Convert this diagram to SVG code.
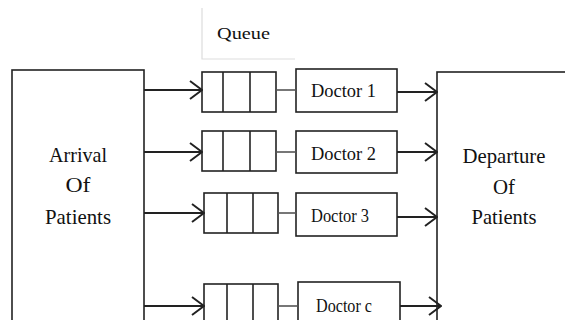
<svg xmlns="http://www.w3.org/2000/svg" width="565" height="320" viewBox="0 0 565 320">
<style>
.box{fill:#fff;stroke:#222;stroke-width:1.6}
.div{stroke:#222;stroke-width:1.6}
.lbl{font-family:'Liberation Serif','DejaVu Serif',serif;fill:#111}
.arr{fill:none;stroke:#222;stroke-width:2;marker-end:url(#arr)}
.link{fill:none;stroke:#555;stroke-width:1.6}
</style>
<defs>
<marker id="arr" viewBox="0 0 14 20" refX="13" refY="10" markerWidth="14" markerHeight="20" markerUnits="userSpaceOnUse" orient="auto">
<path d="M1,1 L13,10 L1,19" fill="none" stroke="#222" stroke-width="2"/>
</marker>
</defs>
<rect width="565" height="320" fill="#fff"/>

<g id="queue-label">
<path d="M202,8 V59 H295" fill="none" stroke="#ddd" stroke-width="1.2"/>
<text class="lbl" x="217" y="39" font-size="17" textLength="53" lengthAdjust="spacingAndGlyphs">Queue</text>
</g>

<g id="arrival">
<rect class="box" x="12" y="70" width="132" height="270"/>
<text class="lbl" x="78" y="162" font-size="22" text-anchor="middle" textLength="58" lengthAdjust="spacingAndGlyphs">Arrival</text>
<text class="lbl" x="78" y="192" font-size="22" text-anchor="middle" textLength="25" lengthAdjust="spacingAndGlyphs">Of</text>
<text class="lbl" x="78" y="224" font-size="22" text-anchor="middle" textLength="66" lengthAdjust="spacingAndGlyphs">Patients</text>
</g>

<g id="departure">
<rect class="box" x="437" y="72" width="140" height="270"/>
<text class="lbl" x="504" y="163" font-size="22" text-anchor="middle" textLength="83" lengthAdjust="spacingAndGlyphs">Departure</text>
<text class="lbl" x="504" y="194" font-size="22" text-anchor="middle" textLength="22" lengthAdjust="spacingAndGlyphs">Of</text>
<text class="lbl" x="504" y="224" font-size="22" text-anchor="middle" textLength="65" lengthAdjust="spacingAndGlyphs">Patients</text>
</g>

<g id="queue1">
<rect class="box" x="202" y="72" width="74" height="40"/>
<line class="div" x1="223" y1="72" x2="223" y2="112"/>
<line class="div" x1="250" y1="72" x2="250" y2="112"/>
</g>
<g id="queue2">
<rect class="box" x="202" y="131" width="74" height="40"/>
<line class="div" x1="223" y1="131" x2="223" y2="171"/>
<line class="div" x1="250" y1="131" x2="250" y2="171"/>
</g>
<g id="queue3">
<rect class="box" x="204" y="193" width="74" height="40"/>
<line class="div" x1="227" y1="193" x2="227" y2="233"/>
<line class="div" x1="253" y1="193" x2="253" y2="233"/>
</g>
<g id="queue4">
<rect class="box" x="204" y="284" width="74" height="50"/>
<line class="div" x1="227" y1="284" x2="227" y2="334"/>
<line class="div" x1="253" y1="284" x2="253" y2="334"/>
</g>

<g id="doctor1">
<rect class="box" x="296" y="69" width="101" height="43"/>
<text class="lbl" x="311" y="97" font-size="18" textLength="65" lengthAdjust="spacingAndGlyphs">Doctor 1</text>
</g>
<g id="doctor2">
<rect class="box" x="296" y="131" width="101" height="42"/>
<text class="lbl" x="311" y="160" font-size="18" textLength="65" lengthAdjust="spacingAndGlyphs">Doctor 2</text>
</g>
<g id="doctor3">
<rect class="box" x="296" y="193" width="101" height="43"/>
<text class="lbl" x="311" y="222" font-size="18" textLength="58" lengthAdjust="spacingAndGlyphs">Doctor 3</text>
</g>
<g id="doctorc">
<rect class="box" x="298" y="282" width="102" height="50"/>
<text class="lbl" x="316" y="312" font-size="18" textLength="56" lengthAdjust="spacingAndGlyphs">Doctor c</text>
</g>

<g id="connectors">
<line class="arr" x1="144" y1="90" x2="202" y2="90"/>
<line class="arr" x1="144" y1="152" x2="202" y2="152"/>
<line class="arr" x1="144" y1="213" x2="204" y2="213"/>
<line class="arr" x1="144" y1="306" x2="204" y2="306"/>
<line class="link" x1="276" y1="90" x2="296" y2="90" stroke="#999"/>
<line class="link" x1="276" y1="152" x2="296" y2="152"/>
<line class="link" x1="278" y1="213" x2="296" y2="213"/>
<line class="link" x1="278" y1="306" x2="298" y2="306"/>
<line class="arr" x1="397" y1="92" x2="437" y2="92"/>
<line class="arr" x1="397" y1="152" x2="437" y2="152"/>
<line class="arr" x1="397" y1="217" x2="437" y2="217"/>
<line class="arr" x1="400" y1="306" x2="441" y2="306"/>
</g>
</svg>
